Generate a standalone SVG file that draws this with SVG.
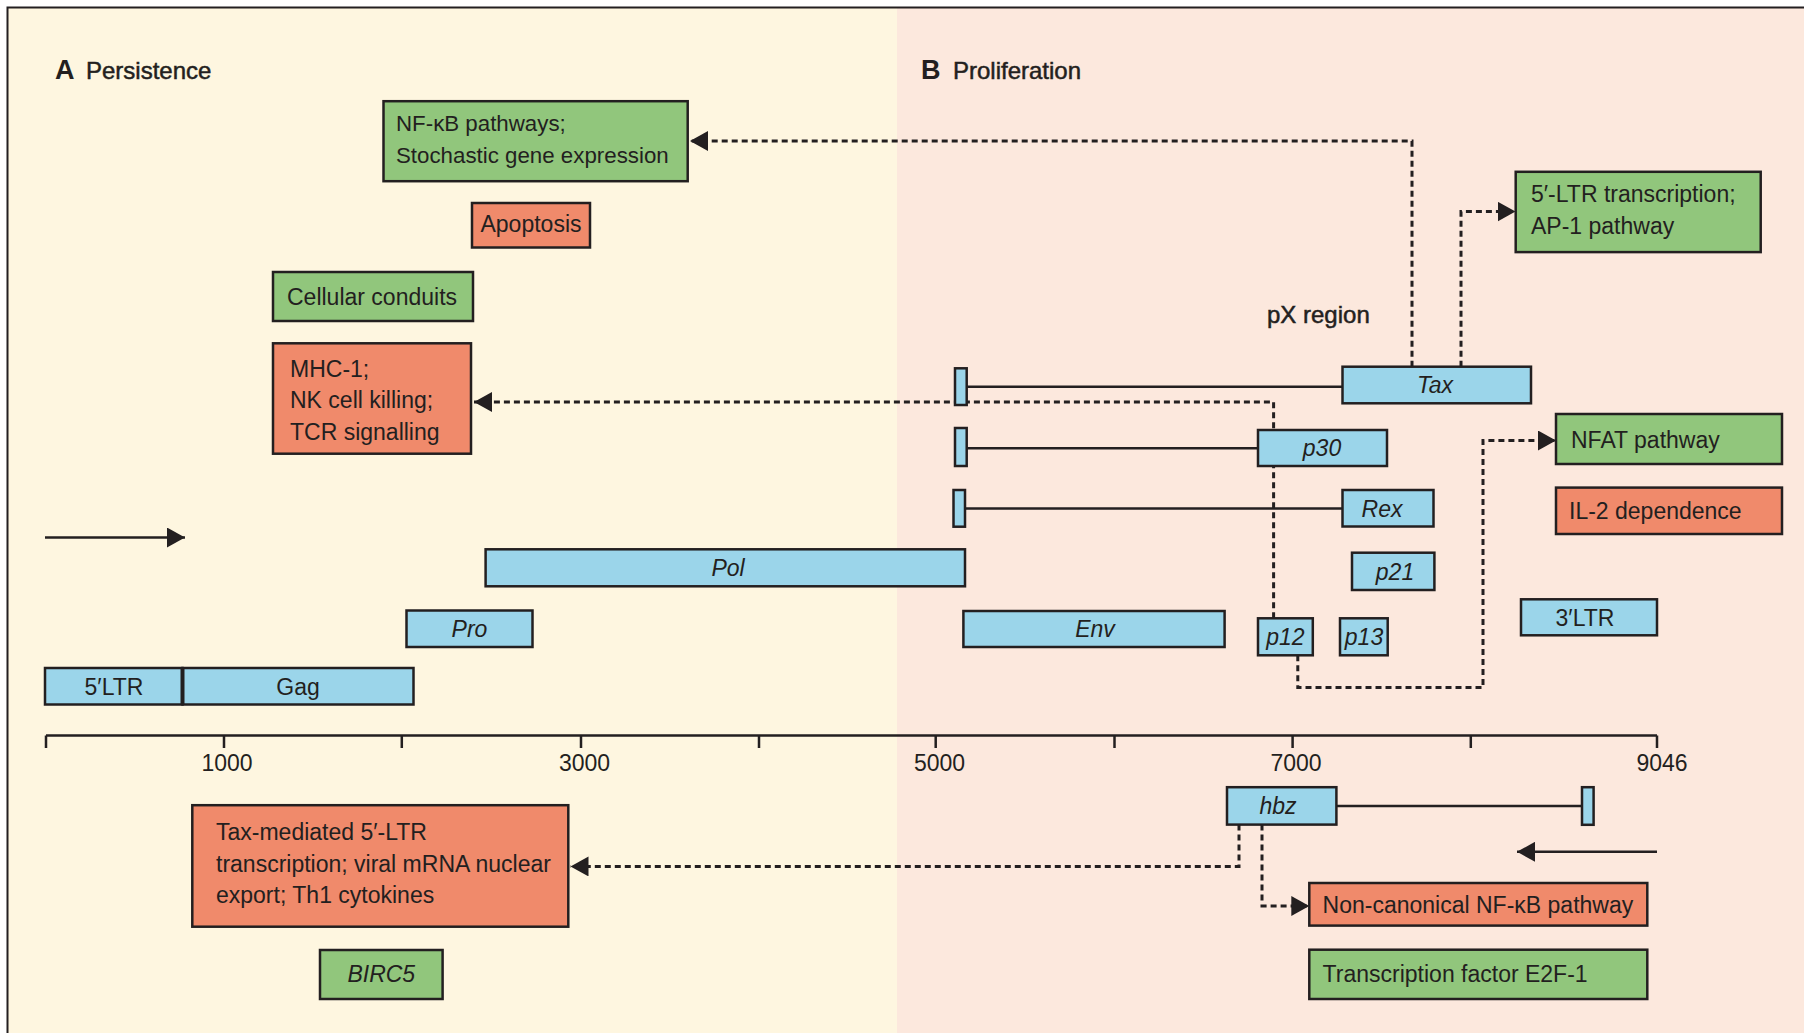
<svg xmlns="http://www.w3.org/2000/svg" width="1804" height="1033" viewBox="0 0 1804 1033">
<style>
text{font-family:"Liberation Sans",Arial,sans-serif;font-size:23px;fill:#231f20}
.it{font-style:italic}
.c{text-anchor:middle}
.sm{font-size:22.3px}
.hd{font-size:24px;stroke:#231f20;stroke-width:0.5}
.big{font-size:27px;font-weight:bold}
.box{stroke:#231f20;stroke-width:2.5}
.g{fill:#91c67c}
.r{fill:#f08a6b}
.b{fill:#9bd5ea}
.ln{stroke:#231f20;stroke-width:2.5;fill:none}
.dash{stroke:#231f20;stroke-width:3;fill:none;stroke-dasharray:6 4}
</style>
<defs>
<marker id="ah" markerUnits="userSpaceOnUse" markerWidth="19" markerHeight="20" refX="18" refY="10" orient="auto" viewBox="0 0 19 20">
<path d="M0,0 L18,10 L0,20 Z" fill="#231f20"/>
</marker>
</defs>
<rect x="0" y="0" width="1804" height="1033" fill="#ffffff"/>
<rect x="7.5" y="7.5" width="890" height="1026" fill="#fef6e0"/>
<rect x="897" y="7.5" width="907" height="1026" fill="#fce8dd"/>
<path d="M7.5,1033 V7.5 H1804" stroke="#231f20" stroke-width="2" fill="none"/>

<g id="headings">
<text class="big" x="55" y="79">A</text>
<text class="hd" x="86" y="79">Persistence</text>
<text class="big" x="921" y="79">B</text>
<text class="hd" x="953" y="79">Proliferation</text>
<text class="hd" x="1267" y="323">pX region</text>
</g>

<g id="axis">
<path class="ln" d="M46,735.5 H1657 M46,735.5 V748 M224,735.5 V748 M401.8,735.5 V748 M581,735.5 V748 M759,735.5 V748 M935.7,735.5 V748 M1114.5,735.5 V748 M1292.6,735.5 V748 M1470.8,735.5 V748 M1657,735.5 V748"/>
<text class="c" x="227" y="771">1000</text>
<text class="c" x="584.5" y="771">3000</text>
<text class="c" x="939.5" y="771">5000</text>
<text class="c" x="1296" y="771">7000</text>
<text class="c" x="1662" y="771">9046</text>
</g>

<g id="connectors">
<path class="ln" d="M966.7,386.7 H1342.5"/>
<path class="ln" d="M966.7,448.3 H1258"/>
<path class="ln" d="M965.6,508.5 H1342.5"/>
<path class="ln" d="M1336.4,806 H1582"/>
<path class="ln" d="M45,537.5 H185" marker-end="url(#ah)"/>
<path class="ln" d="M1657,851.8 H1517" marker-end="url(#ah)"/>
<path class="dash" d="M1412,366.7 V141 H690" marker-end="url(#ah)"/>
<path class="dash" d="M1461,366.7 V211.6 H1515.5" marker-end="url(#ah)"/>
<path class="dash" d="M1273.6,618.3 V402 H474" marker-end="url(#ah)"/>
<path class="dash" d="M1297.8,655.3 V687.6 H1483 V440.5 H1556" marker-end="url(#ah)"/>
<path class="dash" d="M1239,824.6 V866.4 H570.5" marker-end="url(#ah)"/>
<path class="dash" d="M1262,824.6 V906 H1309.3" marker-end="url(#ah)"/>
</g>

<g id="exons">
<rect class="box b" x="955" y="368.3" width="11.7" height="36.7"/>
<rect class="box b" x="955" y="428" width="11.7" height="38"/>
<rect class="box b" x="953.5" y="490" width="11.5" height="36.7"/>
<rect class="box b" x="1582" y="787.2" width="11.6" height="37.6"/>
</g>

<g id="n-5ltr"><rect class="box b" x="45" y="668" width="137.5" height="36.5"/><text class="c" x="114" y="694.5">5′LTR</text></g>
<g id="n-gag"><rect class="box b" x="182.5" y="668" width="231" height="36.5"/><line x1="182.5" y1="668" x2="182.5" y2="704.5" stroke="#231f20" stroke-width="4"/><text class="c" x="298" y="694.5">Gag</text></g>
<g id="n-pro"><rect class="box b" x="406.5" y="610.5" width="126" height="36.5"/><text class="c it" x="469.5" y="637">Pro</text></g>
<g id="n-pol"><rect class="box b" x="485.6" y="549.3" width="479.4" height="37"/><text class="c it" x="728" y="576">Pol</text></g>
<g id="n-env"><rect class="box b" x="963.4" y="611" width="261.2" height="36"/><text class="c it" x="1095" y="637">Env</text></g>
<g id="n-tax"><rect class="box b" x="1342.5" y="366.7" width="188.5" height="36.6"/><text class="c it" x="1435" y="393">Tax</text></g>
<g id="n-p30"><rect class="box b" x="1258" y="430" width="129" height="36"/><text class="c it" x="1322" y="456">p30</text></g>
<g id="n-rex"><rect class="box b" x="1342.5" y="490" width="91" height="36.5"/><text class="c it" x="1382" y="516.5">Rex</text></g>
<g id="n-p21"><rect class="box b" x="1352" y="552.7" width="82.4" height="37.3"/><text class="c it" x="1395" y="579.5">p21</text></g>
<g id="n-p12"><rect class="box b" x="1258" y="618.3" width="54.8" height="37"/><text class="c it" x="1285.4" y="645">p12</text></g>
<g id="n-p13"><rect class="box b" x="1340" y="618.3" width="47.7" height="37"/><text class="c it" x="1364" y="645">p13</text></g>
<g id="n-3ltr"><rect class="box b" x="1521" y="599.3" width="136" height="36"/><text class="c" x="1585" y="625.5">3′LTR</text></g>
<g id="n-hbz"><rect class="box b" x="1227" y="787.2" width="109.4" height="37.4"/><text class="c it" x="1278" y="814">hbz</text></g>

<g id="f-nfkb"><rect class="box g" x="383.5" y="101.2" width="304.2" height="80"/><text class="sm" x="396" y="131">NF-κB pathways;</text><text class="sm" x="396" y="162.5">Stochastic gene expression</text></g>
<g id="f-apoptosis"><rect class="box r" x="472" y="203" width="118" height="44.5"/><text class="c" x="531" y="232">Apoptosis</text></g>
<g id="f-conduits"><rect class="box g" x="273" y="272" width="200" height="49"/><text x="287" y="305">Cellular conduits</text></g>
<g id="f-mhc"><rect class="box r" x="273" y="343.3" width="198" height="110.4"/><text x="290" y="376.5">MHC-1;</text><text x="290" y="408">NK cell killing;</text><text x="290" y="439.5">TCR signalling</text></g>
<g id="f-taxmed"><rect class="box r" x="192.3" y="805.2" width="376" height="121.5"/><text x="216" y="840">Tax-mediated 5′-LTR</text><text x="216" y="871.5">transcription; viral mRNA nuclear</text><text x="216" y="903">export; Th1 cytokines</text></g>
<g id="f-birc5"><rect class="box g" x="320" y="950" width="122.6" height="49"/><text class="c it" x="381.3" y="982">BIRC5</text></g>
<g id="f-5ltr"><rect class="box g" x="1515.7" y="171.8" width="245" height="80.3"/><text x="1531" y="202.3">5′-LTR transcription;</text><text x="1531" y="233.8">AP-1 pathway</text></g>
<g id="f-nfat"><rect class="box g" x="1556" y="414" width="226" height="50"/><text x="1571" y="447.5">NFAT pathway</text></g>
<g id="f-il2"><rect class="box r" x="1556" y="487.6" width="226" height="46.4"/><text x="1569" y="519">IL-2 dependence</text></g>
<g id="f-noncanon"><rect class="box r" x="1309.3" y="883" width="338" height="42.6"/><text x="1322.6" y="912.5">Non-canonical NF-κB pathway</text></g>
<g id="f-e2f1"><rect class="box g" x="1309.3" y="949.7" width="338" height="49.3"/><text x="1322.6" y="982">Transcription factor E2F-1</text></g>
</svg>
